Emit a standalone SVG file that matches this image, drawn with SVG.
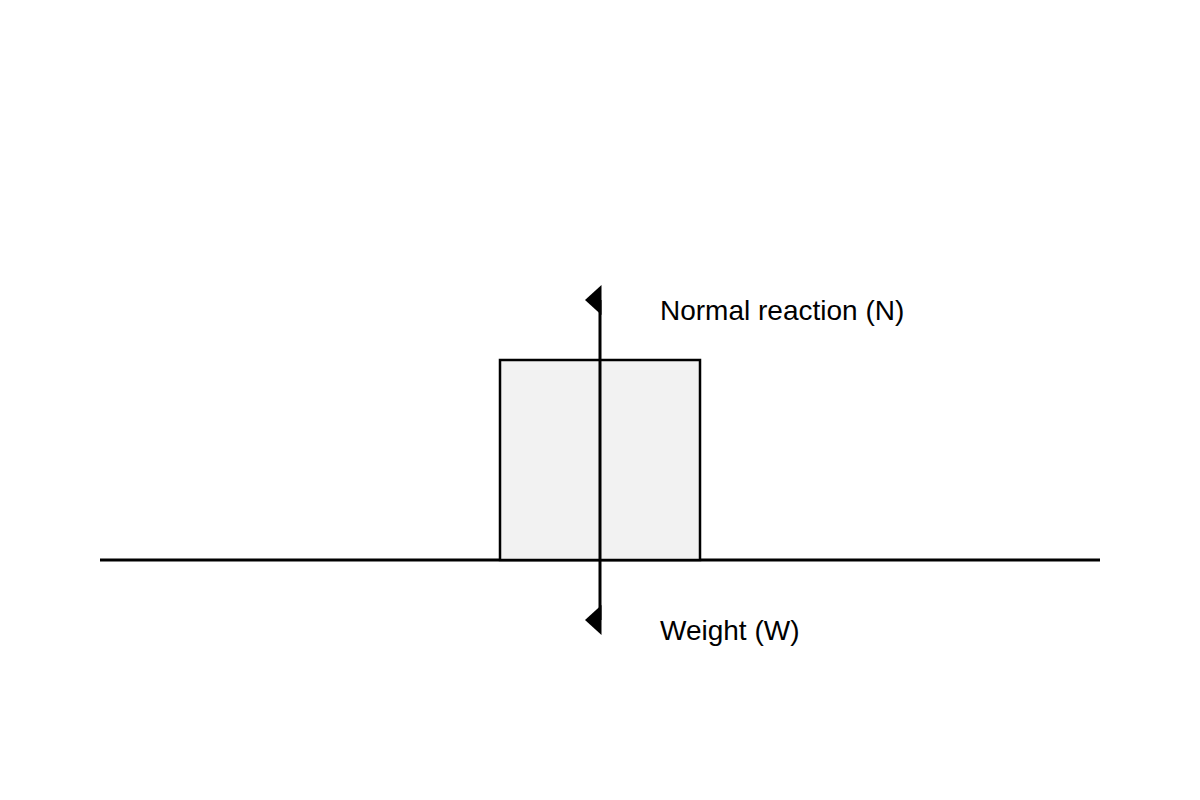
<svg xmlns="http://www.w3.org/2000/svg" width="1200" height="800" viewBox="0 0 1200 800">
  <style>
    .lbl { font-family: "Liberation Sans", Arial, sans-serif; font-size: 28px; fill: #000; }
    .ln { stroke: #000; stroke-width: 3; fill: none; }
    .head { fill: #000; stroke: none; }
  </style>
  <rect x="0" y="0" width="1200" height="800" fill="#fff"/>
  <g id="ground">
    <line class="ln" x1="100" y1="560" x2="1100" y2="560"/>
  </g>
  <g id="block">
    <rect x="500" y="360" width="200" height="200" fill="#f2f2f2" stroke="#000" stroke-width="2.5"/>
  </g>
  <g id="connectors">
    <line class="ln" x1="600" y1="300" x2="600" y2="560"/>
    <polygon class="head" points="601.5,285 585,300 601.5,315"/>
    <line class="ln" x1="600" y1="560" x2="600" y2="620"/>
    <polygon class="head" points="601.5,635 585,620 601.5,605"/>
  </g>
  <g id="label-normal">
    <text class="lbl" x="660" y="320">Normal reaction (N)</text>
  </g>
  <g id="label-weight">
    <text class="lbl" x="660" y="640">Weight (W)</text>
  </g>
</svg>
